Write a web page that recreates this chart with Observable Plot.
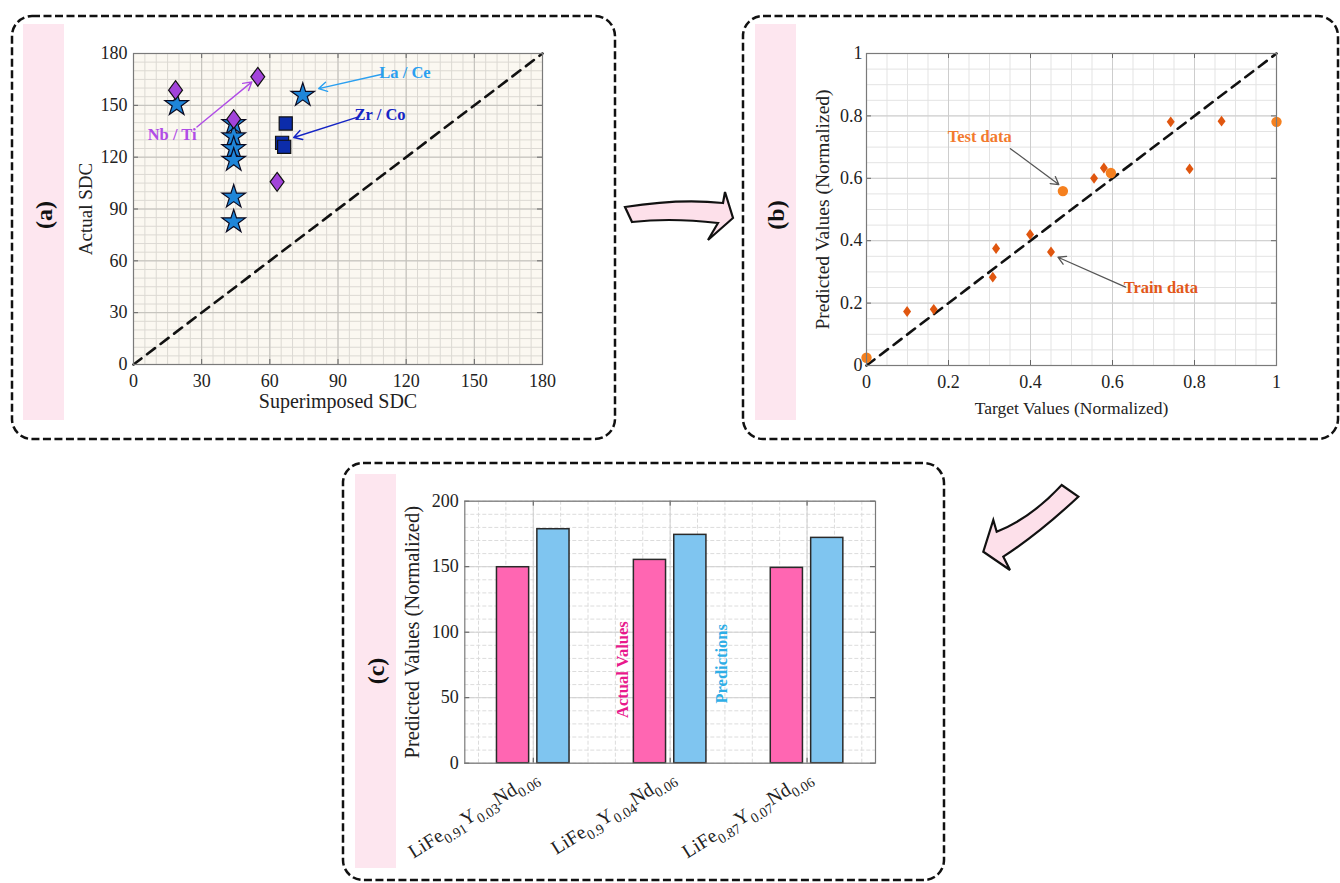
<!DOCTYPE html>
<html><head><meta charset="utf-8">
<script src="https://cdn.jsdelivr.net/npm/d3@7"></script>
<script src="https://cdn.jsdelivr.net/npm/@observablehq/plot@0.6"></script>
<style>
html,body{margin:0;padding:0;background:#fff;}
#root{position:relative;width:1340px;height:883px;overflow:hidden;background:#fff;}
.abs{position:absolute;}
</style></head><body><div id="root"></div>
<script>
const FONT = "'Liberation Serif', 'Times New Roman', serif";

// ---------- Panel (a) data ----------
const aTicks = [0, 30, 60, 90, 120, 150, 180];
const aMinor = d3.range(0, 181, 5);
const aDiag = [0, 180];
const aXTitle = "Superimposed SDC";
const aYTitle = "Actual SDC";
const nbTiX = [18.5, 54.7, 44.1, 63.2];
const nbTiY = [158.8, 166.5, 142, 105.7];
const laCeX = [19, 44.1, 44.1, 44.1, 44.1, 44.1, 44.1, 74.5];
const laCeY = [150.5, 139.5, 131.8, 125, 118.3, 97, 82.6, 155.9];
const zrCoX = [67, 65.4, 66.3];
const zrCoY = [139.5, 128.3, 126];
const aNoteText = ["La / Ce", "Zr / Co", "Nb / Ti"];
const aNoteX = [119.5, 108.5, 17];
const aNoteY = [168.8, 144.3, 133.1];
const aArrowX1 = [109.4, 98.3, 27.9];
const aArrowY1 = [168, 143, 137.5];
const aArrowX2 = [81.5, 70.5, 52.1];
const aArrowY2 = [159.7, 131.4, 163.6];

// ---------- Panel (b) data ----------
const bTicks = [0, 0.2, 0.4, 0.6, 0.8, 1];
const bMinor = d3.range(0, 1.0001, 0.05);
const bDiag = [0, 1];
const bXTitle = "Target Values (Normalized)";
const bYTitle = "Predicted Values (Normalized)";
const trainX = [0.099, 0.164, 0.308, 0.316, 0.399, 0.450, 0.555, 0.579, 0.742, 0.788, 0.866];
const trainY = [0.173, 0.180, 0.283, 0.375, 0.420, 0.364, 0.600, 0.633, 0.781, 0.630, 0.783];
const testX = [0, 0.479, 0.596, 1];
const testY = [0.025, 0.559, 0.617, 0.781];
const bNoteText = ["Test data", "Train data"];
const bNoteX = [0.276, 0.718];
const bNoteY = [0.732, 0.248];
const bArrowX1 = [0.351, 0.632];
const bArrowY1 = [0.695, 0.251];
const bArrowX2 = [0.469, 0.467];
const bArrowY2 = [0.580, 0.347];

// ---------- Panel (c) data ----------
const compounds = ["LiFe_{0.91}Y_{0.03}Nd_{0.06}", "LiFe_{0.9}Y_{0.04}Nd_{0.06}", "LiFe_{0.87}Y_{0.07}Nd_{0.06}"];
const actualValues = [149.6, 155.2, 149.1];
const predictions = [178.6, 174.3, 172.0];
const cYTitle = "Predicted Values (Normalized)";
const cTicksY = [0, 50, 100, 150, 200];
const cTicksX = [1, 2, 3];
const cMinorX = d3.range(0.6, 3.41, 0.2);
const cMinorY = d3.range(0, 201, 10);
const cNoteText = ["Actual Values", "Predictions"];
const cNoteX = [1.65, 2.38];
const cNoteY = [71.4, 75.9];

// ---------- helpers ----------
const pts = (xs, ys) => xs.map((x, i) => ({x, y: ys[i]}));
const diamond = (ratio) => ({
  draw(ctx, size) {
    const r = Math.sqrt(size / Math.PI), w = r * ratio;
    ctx.moveTo(0, -r); ctx.lineTo(w, 0); ctx.lineTo(0, r); ctx.lineTo(-w, 0); ctx.closePath();
  }
});
function innerTicks(tx, ty, fw, fh, len, stroke) {
  return [
    Plot.ruleX(tx, {x: d => d, insetTop: fh - len, stroke}),
    Plot.ruleX(tx, {x: d => d, insetBottom: fh - len, stroke}),
    Plot.ruleY(ty, {y: d => d, insetRight: fw - len, stroke}),
    Plot.ruleY(ty, {y: d => d, insetLeft: fw - len, stroke})
  ];
}
function titles(xt, xSize, xDy, yt, ySize, yDx) {
  const m = [];
  if (xt) m.push(Plot.text([xt], {frameAnchor: "bottom", textAnchor: "middle", dy: xDy, fontSize: xSize, fill: "#222"}));
  if (yt) m.push(Plot.text([yt], {frameAnchor: "left", textAnchor: "middle", dx: yDx, rotate: -90, fontSize: ySize, fill: "#222"}));
  return m;
}
function subscriptify(svg, subSize, shift) {
  svg.querySelectorAll("text").forEach(t => {
    const s = t.textContent;
    if (!s.includes("_{")) return;
    t.textContent = "";
    const re = /_\{([^}]*)\}|([^_]+)/g;
    let m, sub = false;
    while ((m = re.exec(s))) {
      const ts = document.createElementNS("http://www.w3.org/2000/svg", "tspan");
      if (m[1] !== undefined) {
        ts.textContent = m[1]; ts.setAttribute("font-size", subSize);
        if (!sub) ts.setAttribute("dy", shift); sub = true;
      } else {
        ts.textContent = m[2]; if (sub) ts.setAttribute("dy", -shift); sub = false;
      }
      t.appendChild(ts);
    }
  });
}
const root = document.getElementById("root");
function place(el, left, top, w) {
  const d = document.createElement("div");
  d.className = "abs"; d.style.left = left + "px"; d.style.top = top + "px"; d.style.width = w + "px";
  d.appendChild(el); root.appendChild(d);
}

// ---------- decorations (boxes, strips, curved arrows, panel tags) ----------
const deco = `<svg class="abs" style="left:0;top:0" width="1340" height="883" xmlns="http://www.w3.org/2000/svg">
<rect x="23" y="24" width="41" height="396" fill="#fde6ef"/>
<rect x="755" y="24" width="41" height="396" fill="#fde6ef"/>
<rect x="355" y="474" width="41" height="394" fill="#fde6ef"/>
<g fill="none" stroke="#111" stroke-width="2.5" stroke-dasharray="8 3.5">
<rect x="12" y="16" width="603" height="423" rx="20"/>
<rect x="743" y="16" width="595" height="423" rx="20"/>
<rect x="343" y="463" width="601" height="417" rx="20"/>
</g>
<g fill="#fde0ea" stroke="#111" stroke-width="2.2" stroke-linejoin="miter">
<path d="M625,207 Q679.4,198.4 723,203 L725,192 L733,218 L708,240 L718,223 Q671.6,217.5 632,222 Z"/>
<path d="M1061.7,485 Q1030.8,518.3 996.7,531.7 L993.3,520 L983.3,551.7 L1010,570 L1003.3,556.7 Q1039.2,533.3 1078.3,496.7 Z"/>
</g>
<g font-family="${FONT}" font-weight="bold" font-size="24" fill="#111" text-anchor="middle" dominant-baseline="central">
<text transform="translate(44,215) rotate(-90)">(a)</text>
<text transform="translate(776,215) rotate(-90)">(b)</text>
<text transform="translate(376,671) rotate(-90)">(c)</text>
</g></svg>`;
root.insertAdjacentHTML("beforeend", deco);

const baseStyle = {fontFamily: FONT, fontSize: "18px", background: "transparent", color: "#222"};

// ---------- Panel (a) ----------
{
  const W = 500, H = 400, mL = 70, mR = 21, mT = 28, mB = 61;
  const fw = W - mL - mR, fh = H - mT - mB;
  const notes = aNoteText.map((t, i) => ({t, x: aNoteX[i], y: aNoteY[i], x1: aArrowX1[i], y1: aArrowY1[i], x2: aArrowX2[i], y2: aArrowY2[i]}));
  const noteColor = {"La / Ce": "#2a9ff0", "Zr / Co": "#1424c4", "Nb / Ti": "#b04de6"};
  const noteDash = {"La / Ce": "3,2", "Zr / Co": "3,2", "Nb / Ti": null};
  const plot = Plot.plot({
    width: W, height: H, marginLeft: mL, marginRight: mR, marginTop: mT, marginBottom: mB,
    style: baseStyle,
    x: {domain: [0, 180]}, y: {domain: [0, 180]},
    marks: [
      Plot.frame({fill: "#fbf8f1", stroke: null}),
      Plot.gridX(aMinor, {stroke: "#dcd9d3", strokeOpacity: 1}),
      Plot.gridY(aMinor, {stroke: "#dcd9d3", strokeOpacity: 1}),
      Plot.gridX(aTicks, {stroke: "#c2c0bb", strokeOpacity: 1}),
      Plot.gridY(aTicks, {stroke: "#c2c0bb", strokeOpacity: 1}),
      ...innerTicks(aTicks, aTicks, fw, fh, 5, "#666"),
      Plot.axisX({ticks: aTicks, tickSize: 0, tickPadding: 10, label: null, fontSize: 18}),
      Plot.axisY({ticks: aTicks, tickSize: 0, tickPadding: 6, label: null, fontSize: 18}),
      ...titles(aXTitle, 20, 43, aYTitle, 19, -48),
      Plot.line(aDiag, {x: d => d, y: d => d, stroke: "#111", strokeWidth: 2.6, strokeDasharray: "10,7"}),
      Plot.dot(pts(laCeX, laCeY), {x: "x", y: "y", symbol: "star", r: 7.4, fill: "#1f86d9", stroke: "#0a0a20", strokeWidth: 1.2}),
      Plot.dot(pts(nbTiX, nbTiY), {x: "x", y: "y", symbol: diamond(0.74), r: 9.4, fill: "#a244da", stroke: "#111", strokeWidth: 1.2}),
      Plot.dot(pts(zrCoX, zrCoY), {x: "x", y: "y", symbol: "square", r: 7.4, fill: "#0c2caa", stroke: "#111", strokeWidth: 1.2}),
      Plot.arrow(notes, {x1: "x1", y1: "y1", x2: "x2", y2: "y2", stroke: d => noteColor[d.t], strokeWidth: 1.4, headLength: 10, strokeDasharray: d => noteDash[d.t]}),
      Plot.text(notes, {x: "x", y: "y", text: "t", fill: d => noteColor[d.t], fontWeight: "bold", fontSize: 16.5}),
      Plot.frame({stroke: "#7a7a7a", strokeWidth: 1.2})
    ]
  });
  place(plot, 63, 25, W);
}

// ---------- Panel (b) ----------
{
  const W = 550, H = 400, mL = 76, mR = 64, mT = 28, mB = 60;
  const fw = W - mL - mR, fh = H - mT - mB;
  const notes = bNoteText.map((t, i) => ({t, x: bNoteX[i], y: bNoteY[i], x1: bArrowX1[i], y1: bArrowY1[i], x2: bArrowX2[i], y2: bArrowY2[i]}));
  const noteColor = {"Test data": "#f27a2e", "Train data": "#e2581a"};
  const fmt = d => String(+d.toFixed(2));
  const plot = Plot.plot({
    width: W, height: H, marginLeft: mL, marginRight: mR, marginTop: mT, marginBottom: mB,
    style: baseStyle,
    x: {domain: [0, 1]}, y: {domain: [0, 1]},
    marks: [
      Plot.frame({fill: "#ffffff", stroke: null}),
      Plot.gridX(bMinor, {stroke: "#e3e3e3", strokeOpacity: 1}),
      Plot.gridY(bMinor, {stroke: "#e3e3e3", strokeOpacity: 1}),
      Plot.gridX(bTicks, {stroke: "#cdcdcd", strokeOpacity: 1}),
      Plot.gridY(bTicks, {stroke: "#cdcdcd", strokeOpacity: 1}),
      ...innerTicks(bTicks, bTicks, fw, fh, 5, "#666"),
      Plot.axisX({ticks: bTicks, tickFormat: fmt, tickSize: 0, tickPadding: 10, label: null, fontSize: 18}),
      Plot.axisY({ticks: bTicks, tickFormat: fmt, tickSize: 0, tickPadding: 4, label: null, fontSize: 18}),
      ...titles(bXTitle, 17.5, 48, bYTitle, 19.5, -44),
      Plot.line(bDiag, {x: d => d, y: d => d, stroke: "#111", strokeWidth: 2.6, strokeDasharray: "10,7"}),
      Plot.dot(pts(trainX, trainY), {x: "x", y: "y", symbol: diamond(0.74), r: 5.4, fill: "#e0560f"}),
      Plot.dot(pts(testX, testY), {x: "x", y: "y", r: 5.2, fill: "#f5801f"}),
      Plot.arrow(notes, {x1: "x1", y1: "y1", x2: "x2", y2: "y2", stroke: "#555", strokeWidth: 1.3, headLength: 10}),
      Plot.text(notes, {x: "x", y: "y", text: "t", fill: d => noteColor[d.t], fontWeight: "bold", fontSize: 16.5}),
      Plot.frame({stroke: "#7a7a7a", strokeWidth: 1.2})
    ]
  });
  place(plot, 790, 25, W);
}

// ---------- Panel (c) ----------
{
  const W = 548, H = 405, mL = 68.3, mR = 69, mT = 22.7, mB = 120.3;
  const fw = W - mL - mR, fh = H - mT - mB;
  const table = compounds.map((name, i) => ({idx: i + 1, name, actual: actualValues[i], pred: predictions[i]}));
  const notes = cNoteText.map((t, i) => ({t, x: cNoteX[i], y: cNoteY[i]}));
  const noteColor = {"Actual Values": "#e8188c", "Predictions": "#2eaee6"};
  const plot = Plot.plot({
    width: W, height: H, marginLeft: mL, marginRight: mR, marginTop: mT, marginBottom: mB,
    style: baseStyle,
    x: {domain: [0.5, 3.5], axis: null}, y: {domain: [0, 200]},
    marks: [
      Plot.frame({fill: "#ffffff", stroke: null}),
      Plot.gridX(cMinorX, {stroke: "#dcdcdc", strokeOpacity: 1, strokeDasharray: "4,2"}),
      Plot.gridY(cMinorY, {stroke: "#dcdcdc", strokeOpacity: 1, strokeDasharray: "4,2"}),
      Plot.gridX(cTicksX, {stroke: "#d0d0d0", strokeOpacity: 1}),
      Plot.gridY(cTicksY, {stroke: "#d0d0d0", strokeOpacity: 1}),
      ...innerTicks(cTicksX, cTicksY, fw, fh, 5, "#555"),
      Plot.axisY({ticks: cTicksY, tickSize: 0, tickPadding: 6, label: null, fontSize: 18}),
      ...titles(null, 0, 0, cYTitle, 20.5, -52.6),
      Plot.rectY(table, {x1: d => d.idx - 0.265, x2: d => d.idx - 0.03, y: "actual", fill: "#ff66b2", stroke: "#2a2a2a", strokeWidth: 1.5}),
      Plot.rectY(table, {x1: d => d.idx + 0.03, x2: d => d.idx + 0.265, y: "pred", fill: "#7fc5f0", stroke: "#2a2a2a", strokeWidth: 1.5}),
      Plot.text(notes, {x: "x", y: "y", text: "t", rotate: -90, fill: d => noteColor[d.t], fontWeight: "bold", fontSize: 16.5}),
      Plot.text(table, {x: "idx", text: "name", frameAnchor: "bottom", rotate: -32, textAnchor: "end", dx: 6, dy: 17, fontSize: 19.5, fill: "#222"}),
      Plot.frame({stroke: "#7a7a7a", strokeWidth: 1.2})
    ]
  });
  subscriptify(plot, "14px", 5.5);
  place(plot, 396, 478, W);
}
</script></body></html>
